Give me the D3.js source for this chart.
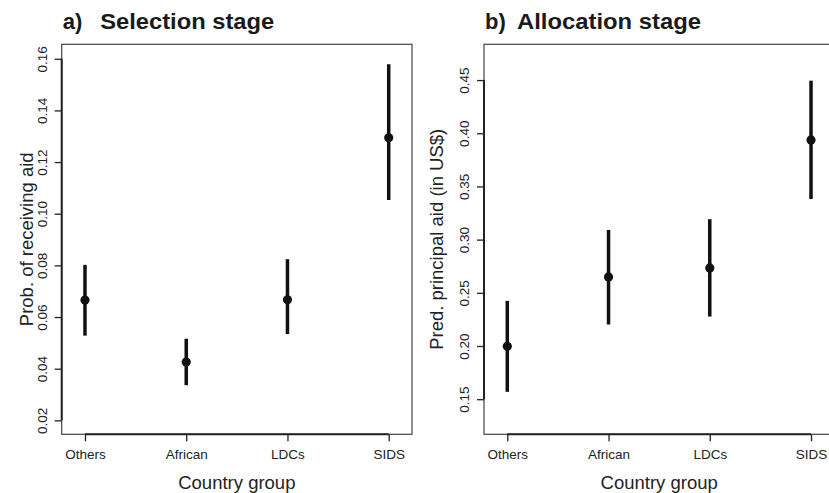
<!DOCTYPE html>
<html>
<head>
  <meta charset="utf-8">
  <title>Selection and allocation stage</title>
  <style>
    body { margin: 0; background: #fff; }
    svg { display: block; font-family: "Liberation Sans", Arial, Helvetica, sans-serif; }
    .tick text { font-family: "Liberation Sans", Arial, Helvetica, sans-serif; font-size: 13.5px; fill: #222; }
    .tick line { stroke: #222; stroke-width: 1.3; }
    .ax-title { font-size: 18.5px; fill: #222; }
    .p-title { font-size: 22px; font-weight: bold; fill: #1a1a1a; }
  </style>
  <script src="https://cdn.jsdelivr.net/npm/d3@7"></script>
</head>
<body>
  <div id="chart"></div>
  <script>
    // country groups on the x axis
    var groups = ["Others", "African", "LDCs", "SIDS"];

    // a) selection stage: prob. of receiving aid (estimate, lower, upper)
    var selEst = [0.0666, 0.0426, 0.0667, 0.1294];
    var selLo = [0.0528, 0.0336, 0.0534, 0.1053];
    var selHi = [0.0802, 0.0516, 0.0824, 0.1579];
    var selTicks = [0.02, 0.04, 0.06, 0.08, 0.10, 0.12, 0.14, 0.16];

    // b) allocation stage: predicted principal aid
    var allocEst = [0.1998, 0.2649, 0.2734, 0.3937];
    var allocLo = [0.1569, 0.2202, 0.2277, 0.3382];
    var allocHi = [0.2424, 0.3091, 0.3192, 0.4494];
    var allocTicks = [0.15, 0.20, 0.25, 0.30, 0.35, 0.40, 0.45];

    var width = 829, height = 493;

    var svg = d3.select("#chart").append("svg")
      .attr("width", width)
      .attr("height", height);

    var panels = [
      {
        left: 61.7, label: "a)", title: "Selection stage", titleGap: 37.5, titleLen: 174,
        ylab: "Prob. of receiving aid", ylabOff: 29,
        est: selEst, lo: selLo, hi: selHi, ticks: selTicks,
        ydom: [0.0146, 0.1656], fmt: d3.format(".2f")
      },
      {
        left: 484, label: "b)", title: "Allocation stage", titleGap: 32, titleLen: 184,
        ylab: "Pred. principal aid (in US$)", ylabOff: 41,
        est: allocEst, lo: allocLo, hi: allocHi, ticks: allocTicks,
        ydom: [0.117, 0.4836], fmt: d3.format(".2f")
      }
    ];

    var plotTop = 44.3, plotBottom = 434.3, pw = 350.3;

    panels.forEach(function (p) {
      var right = p.left + pw;
      var x = d3.scaleLinear().domain([0.77, 4.23]).range([p.left, right]);
      var y = d3.scaleLinear().domain(p.ydom).range([plotBottom, plotTop]);
      var g = svg.append("g");

      // box around the plot
      g.append("rect")
        .attr("x", p.left).attr("y", plotTop)
        .attr("width", pw).attr("height", plotBottom - plotTop)
        .attr("fill", "none").attr("stroke", "#444").attr("stroke-width", 1.2);

      // y axis
      var ya = g.append("g")
        .attr("transform", "translate(" + p.left + ",0)")
        .call(d3.axisLeft(y).tickValues(p.ticks).tickFormat(p.fmt).tickSize(7).tickSizeOuter(0));
      ya.select(".domain").remove();
      ya.selectAll(".tick text")
        .attr("x", null).attr("dy", null)
        .attr("text-anchor", "middle")
        .attr("transform", "translate(-15,0) rotate(-90)");
      g.append("line")
        .attr("x1", p.left).attr("x2", p.left)
        .attr("y1", y(p.ticks[0])).attr("y2", y(p.ticks[p.ticks.length - 1]))
        .attr("stroke", "#222").attr("stroke-width", 2);

      // x axis
      var xa = g.append("g")
        .attr("transform", "translate(0," + plotBottom + ")")
        .call(d3.axisBottom(x).tickValues([1, 2, 3, 4])
          .tickFormat(function (d) { return groups[d - 1]; })
          .tickSize(7).tickSizeOuter(0).tickPadding(8.5));
      xa.select(".domain").remove();
      g.append("line")
        .attr("x1", x(1)).attr("x2", x(4))
        .attr("y1", plotBottom).attr("y2", plotBottom)
        .attr("stroke", "#222").attr("stroke-width", 2);

      // error bars
      g.selectAll(".bar")
        .data(groups)
        .enter().append("line")
        .attr("class", "bar")
        .attr("x1", function (d, i) { return x(i + 1); })
        .attr("x2", function (d, i) { return x(i + 1); })
        .attr("y1", function (d, i) { return y(p.lo[i]); })
        .attr("y2", function (d, i) { return y(p.hi[i]); })
        .attr("stroke", "#111").attr("stroke-width", 3.5);

      // point estimates
      g.selectAll(".pt")
        .data(groups)
        .enter().append("circle")
        .attr("class", "pt")
        .attr("cx", function (d, i) { return x(i + 1); })
        .attr("cy", function (d, i) { return y(p.est[i]); })
        .attr("r", 4.6)
        .attr("fill", "#111");

      // axis titles
      g.append("text")
        .attr("class", "ax-title")
        .attr("x", (p.left + right) / 2).attr("y", 489)
        .attr("text-anchor", "middle")
        .text("Country group");

      g.append("text")
        .attr("class", "ax-title")
        .attr("text-anchor", "middle")
        .attr("transform", "translate(" + (p.left - p.ylabOff) + "," + ((plotTop + plotBottom) / 2) + ") rotate(-90)")
        .text(p.ylab);

      // panel title
      var t = g.append("text").attr("class", "p-title").attr("y", 29);
      t.append("tspan").attr("x", p.left + 1).text(p.label);
      t.append("tspan").attr("x", p.left + 1 + p.titleGap)
        .attr("textLength", p.titleLen).attr("lengthAdjust", "spacingAndGlyphs")
        .text(p.title);
    });
  </script>
</body>
</html>
